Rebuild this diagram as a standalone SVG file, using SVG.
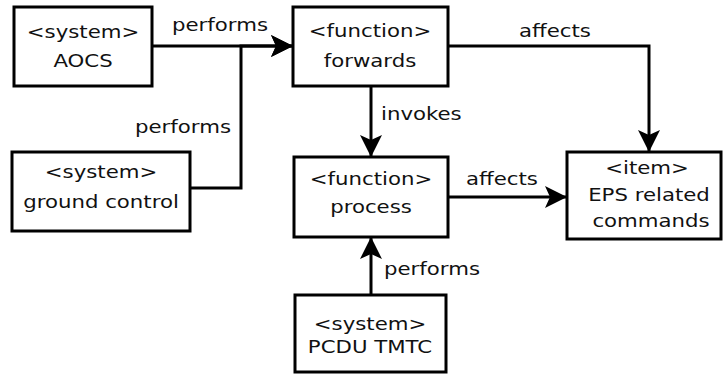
<svg xmlns="http://www.w3.org/2000/svg" width="723" height="374" viewBox="0 0 723 374">
<defs>
<style>
.box{fill:#fff;stroke:#000;stroke-width:3}
.conn{fill:none;stroke:#000;stroke-width:3;marker-end:url(#arr)}
text{font-family:"DejaVu Sans","Liberation Sans",sans-serif;font-size:18.5px;fill:#111}
.c{text-anchor:middle}
</style>
<marker id="arr" markerUnits="userSpaceOnUse" markerWidth="24" markerHeight="24" refX="22" refY="11" orient="auto" overflow="visible">
<path d="M22,11 L0,0 L5,11 L0,22 Z" fill="#000"/>
</marker>
</defs>
<rect width="723" height="374" fill="#fff"/>
<g id="connectors">
<path class="conn" d="M152,46 L293,46"/>
<path class="conn" d="M190,188 L241,188 L241,46 L293,46"/>
<path class="conn" d="M448,46 L649,46 L649,152"/>
<path class="conn" d="M371,86 L371,157"/>
<path class="conn" d="M448,197 L567,197"/>
<path class="conn" d="M371,295 L371,237"/>
<text transform="translate(172,31) scale(1.15,1)">performs</text>
<text transform="translate(135,133) scale(1.15,1)">performs</text>
<text transform="translate(519,37) scale(1.15,1)">affects</text>
<text transform="translate(381,120) scale(1.15,1)">invokes</text>
<text transform="translate(466,185) scale(1.15,1)">affects</text>
<text transform="translate(384,275) scale(1.15,1)">performs</text>
</g>
<g id="aocs">
<rect class="box" x="14" y="7" width="138" height="79"/>
<text class="c" transform="translate(83,38) scale(1.15,1)">&lt;system&gt;</text>
<text class="c" transform="translate(83,67) scale(1.15,1)">AOCS</text>
</g>
<g id="ground-control">
<rect class="box" x="12" y="152" width="178" height="79"/>
<text class="c" transform="translate(101,178) scale(1.15,1)">&lt;system&gt;</text>
<text class="c" transform="translate(101,208) scale(1.15,1)">ground control</text>
</g>
<g id="forwards">
<rect class="box" x="293" y="7" width="155" height="79"/>
<text class="c" transform="translate(370,37) scale(1.15,1)">&lt;function&gt;</text>
<text class="c" transform="translate(370,67) scale(1.15,1)">forwards</text>
</g>
<g id="process">
<rect class="box" x="294" y="157" width="154" height="80"/>
<text class="c" transform="translate(371,185) scale(1.15,1)">&lt;function&gt;</text>
<text class="c" transform="translate(371,213) scale(1.15,1)">process</text>
</g>
<g id="eps-commands">
<rect class="box" x="567" y="152" width="154" height="87"/>
<text class="c" transform="translate(647,174) scale(1.15,1)">&lt;item&gt;</text>
<text class="c" transform="translate(649,201) scale(1.15,1)">EPS related</text>
<text class="c" transform="translate(651,227) scale(1.15,1)">commands</text>
</g>
<g id="pcdu-tmtc">
<rect class="box" x="295" y="295" width="151" height="77"/>
<text class="c" transform="translate(370,330) scale(1.15,1)">&lt;system&gt;</text>
<text class="c" transform="translate(370,353) scale(1.15,1)">PCDU TMTC</text>
</g>
</svg>
